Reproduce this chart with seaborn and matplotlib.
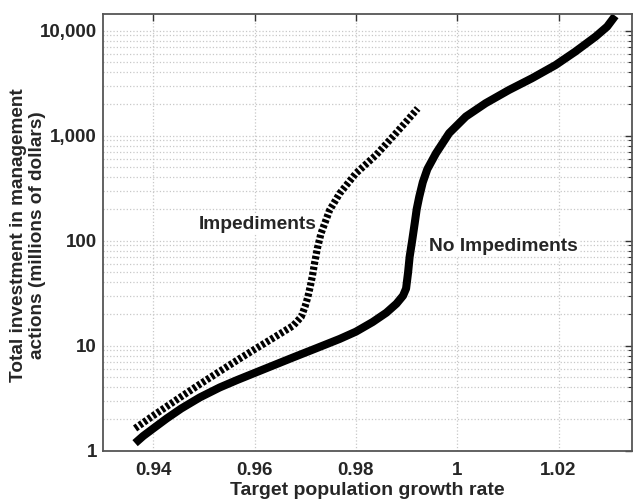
import matplotlib
matplotlib.use("Agg")
import matplotlib.pyplot as plt
from matplotlib.ticker import FixedLocator, FuncFormatter, LogLocator, NullFormatter
import pandas as pd
import seaborn as sns

# values
growth_no_imp = [0.9364, 0.9380, 0.9400, 0.9426, 0.9455, 0.9492, 0.9531, 0.9565,
                 0.9600, 0.9640, 0.9676, 0.9720, 0.9768, 0.9800, 0.9833, 0.9860,
                 0.9880, 0.9893, 0.9899, 0.9903, 0.9906, 0.9911, 0.9916, 0.9920,
                 0.9925, 0.9932, 0.9941, 0.9958, 0.9984, 1.0017, 1.0056, 1.0102,
                 1.0148, 1.0194, 1.0233, 1.0273, 1.0296, 1.0312]
cost_no_imp = [1.18, 1.38, 1.63, 2.02, 2.52, 3.22, 4.0, 4.7,
               5.5, 6.58, 7.73, 9.38, 11.6, 13.6, 16.8, 20.6,
               25.1, 29.9, 35, 50, 70, 100, 146, 200,
               262, 360, 480, 679, 1056, 1520, 2036, 2720,
               3530, 4700, 6310, 8770, 10930, 13850]

growth_imp = [0.9364, 0.9400, 0.9455, 0.9492, 0.9531, 0.9565, 0.9600, 0.9640,
              0.9676, 0.9692, 0.9700, 0.9705, 0.9710, 0.9714, 0.9718, 0.9724,
              0.9731, 0.9748, 0.9768, 0.9800, 0.9840, 0.9873, 0.9902, 0.9922]
cost_imp = [1.63, 2.16, 3.27, 4.3, 5.69, 7.24, 9.23, 12.1,
            15.5, 18.8, 24, 29, 37, 46, 60, 85,
            117, 195, 282, 438, 656, 980, 1409, 1817]

x_ticks = [0.94, 0.96, 0.98, 1.0, 1.02]
x_tick_labels = ["0.94", "0.96", "0.98", "1", "1.02"]
y_ticks = [1, 10, 100, 1000, 10000]

df_no = pd.DataFrame({"growth": growth_no_imp, "cost": cost_no_imp})
df_imp = pd.DataFrame({"growth": growth_imp, "cost": cost_imp})

sns.set_style("white")
plt.rcParams['font.family'] = ['Liberation Sans', 'DejaVu Sans']
plt.rcParams['font.weight'] = 'bold'

fig = plt.figure(figsize=(6.33, 4.99), dpi=100)
ax = fig.add_axes([0.1622, 0.0968, 0.8362, 0.8751])

sns.lineplot(data=df_no, x="growth", y="cost", ax=ax, color="black",
             linewidth=5.8, solid_capstyle="butt", solid_joinstyle="round")
sns.lineplot(data=df_imp, x="growth", y="cost", ax=ax, color="black",
             linewidth=5.2, linestyle=(0, (0.45, 0.3)))

ax.set_yscale("log")
ax.set_xlim(0.930, 1.0345)
ax.set_ylim(1, 14400)

ax.xaxis.set_major_locator(FixedLocator(x_ticks))
ax.set_xticklabels(x_tick_labels)
ax.yaxis.set_major_locator(FixedLocator(y_ticks))
ax.yaxis.set_major_formatter(FuncFormatter(lambda v, p: f"{v:,.0f}"))
ax.yaxis.set_minor_locator(LogLocator(base=10, subs=range(2, 10)))
ax.yaxis.set_minor_formatter(NullFormatter())

ax.grid(True, which="major", axis="both", color="#c8c8c8", linestyle=":", linewidth=0.9)
ax.grid(True, which="minor", axis="y", color="#c8c8c8", linestyle=":", linewidth=0.9)
ax.set_axisbelow(True)

ax.tick_params(which="both", direction="in", top=True, right=True,
               labelsize=13.5, color="#333333")
ax.tick_params(which="major", length=5, width=1)
ax.tick_params(which="minor", length=3, width=0.8)
ax.tick_params(axis="x", pad=8)
ax.tick_params(axis="y", pad=4)
for s in ax.spines.values():
    s.set_color("#555555")
    s.set_linewidth(1.3)

ax.set_xlabel("Target population growth rate", fontsize=14, fontweight="bold", labelpad=2)
ax.set_ylabel("Total investment in management\nactions (millions of dollars)",
              fontsize=13.7, fontweight="bold", va="center", linespacing=1.15)
ax.yaxis.set_label_coords(-0.1415, 0.494)

box = dict(facecolor="white", edgecolor="none", pad=1)
ax.text(0.9607, 144, "Impediments", fontsize=13.8, fontweight="bold",
        ha="center", va="center", bbox=box)
ax.text(0.9945, 88, "No Impediments", fontsize=13.8, fontweight="bold",
        ha="left", va="center", bbox=box)

fig.savefig("out.png", dpi=100)
